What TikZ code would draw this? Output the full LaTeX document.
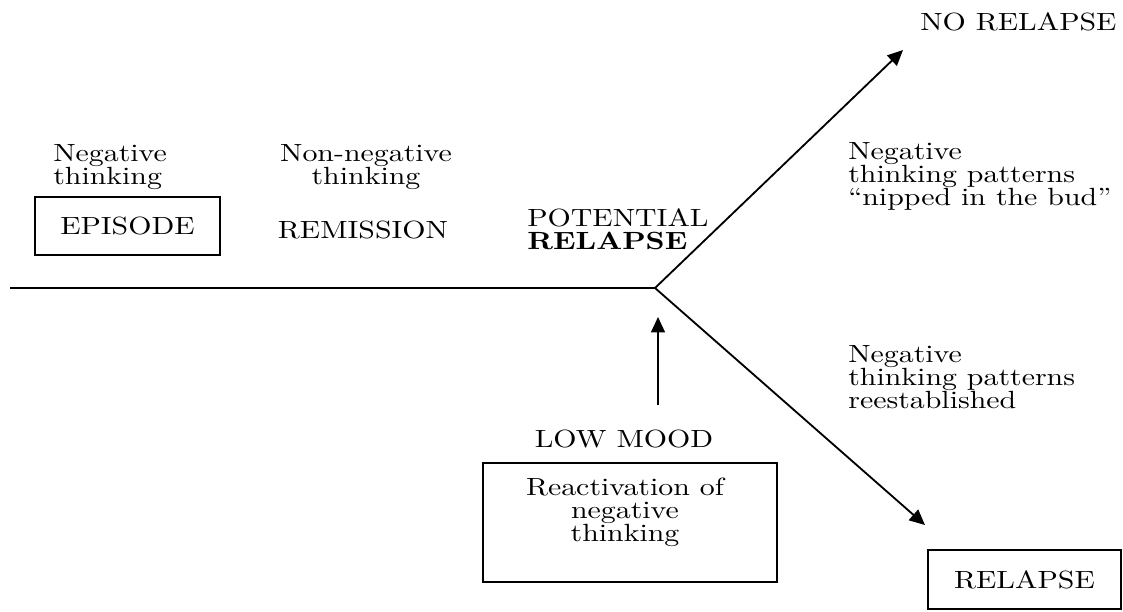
\documentclass[tikz,border=0pt]{standalone}
\usepackage{fontspec}
\setmainfont{lmroman10-regular.otf}[BoldFont=lmroman10-bold.otf,FakeStretch=1.2]
\usetikzlibrary{arrows.meta}

\begin{document}
\begin{tikzpicture}[x=0.025cm,y=-0.025cm,font=\fontsize{17.7}{16.4}\selectfont,
  txt/.style={inner sep=0pt},
  box/.style={draw,line width=1pt,inner sep=0pt},
  arr/.style={-{Triangle[length=11pt,width=10pt]},line width=1.3pt}]
			\useasboundingbox (0,0) rectangle (1123,611);
			\node[txt,anchor=north west,align=left] (NegThink) at (53,144) {Negative\\thinking};
			\node[txt,anchor=north,align=center] (NonNeg) at (366,144) {Non-negative\\thinking};
			\node[box,minimum width=4.625cm,minimum height=1.45cm] (Episode) at (127.5,226) {EPISODE};
			\node[txt,anchor=base] (Remission) at (363,238) {REMISSION};
			\node[txt,anchor=north west,align=left] (Potential) at (527,208) {POTENTIAL\\\textbf{RELAPSE}};
			\node[txt,anchor=base west] (NoRelapse) at (920,31) {NO RELAPSE};
			\node[txt,anchor=north west,align=left] (Nipped) at (848,142) {Negative\\thinking patterns\\“nipped in the bud”};
			\node[txt,anchor=north west,align=left] (Reest) at (848,345) {Negative\\thinking patterns\\reestablished};
			\node[box,minimum width=4.825cm,minimum height=1.475cm] (Relapse) at (1024.5,579.5) {RELAPSE};
			\node[txt,anchor=base] (LowMood) at (624,447) {LOW MOOD};
			\node[box,line width=2pt,minimum width=7.35cm,minimum height=2.975cm] (ReactBox) at (630,522.5) {};
			\node[txt,anchor=north,align=center] (React) at (625,478) {Reactivation of\\negative\\thinking};
			
			\coordinate (Start) at (10,288);
			\coordinate (Fork) at (655,288);
			\coordinate (NoTip) at (903,50);
			\coordinate (YesTip) at (925,525);
			\coordinate (MoodFoot) at (658,405);
			\coordinate (MoodTip) at (658,317);
			
			\draw[line width=1.3pt] (Start) to (Fork);
			\draw[arr] (Fork) to (NoTip);
			\draw[arr] (Fork) to (YesTip);
			\draw[arr,line width=1pt] (MoodFoot) to (MoodTip);
\end{tikzpicture}
\end{document}
